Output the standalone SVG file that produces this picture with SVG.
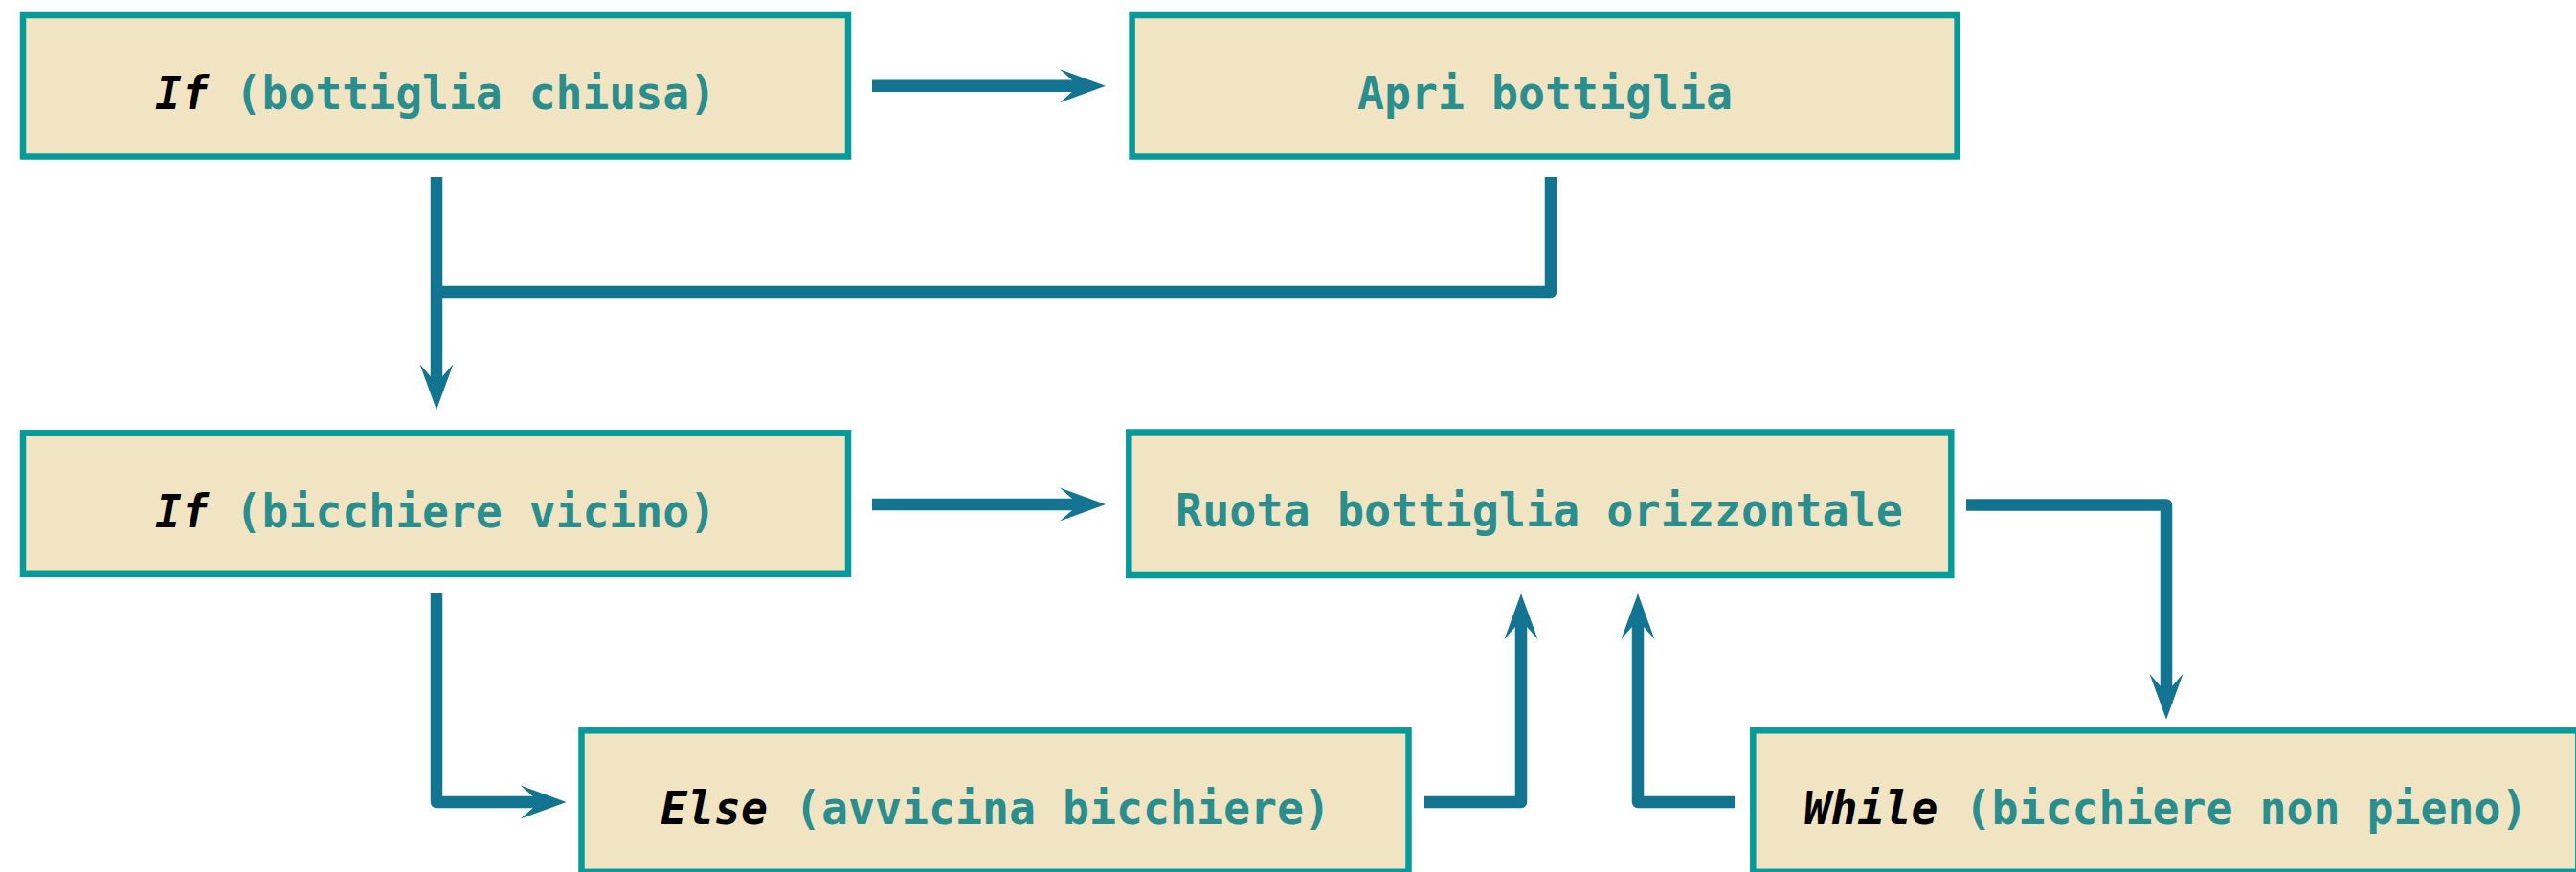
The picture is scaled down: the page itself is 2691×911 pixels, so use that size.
<svg xmlns="http://www.w3.org/2000/svg" width="2691" height="911" viewBox="0 0 2691 911">
  <style>
    .box { fill: #F1E4C3; stroke: #079A9B; stroke-width: 6.5; }
    .lbl { font-family: "DejaVu Sans Mono", "Liberation Mono", monospace; font-size: 48px; font-weight: bold; fill: #2A8E8E; text-anchor: middle; }
    .kw { font-weight: bold; font-style: italic; fill: #000000; }
    .conn { fill: none; stroke: #127490; stroke-width: 12.5; stroke-linejoin: round; stroke-linecap: butt; marker-end: url(#arr); }
    .seg { fill: none; stroke: #127490; stroke-width: 12.5; stroke-linejoin: round; stroke-linecap: butt; }
  </style>
  <defs>
    <marker id="arr" markerUnits="userSpaceOnUse" viewBox="-30 -20 56 40" markerWidth="56" markerHeight="40" refX="0" refY="0" orient="auto">
      <path d="M22,0 L-26,-17.5 L-6,0 L-26,17.5 Z" fill="#127490"/>
    </marker>
  </defs>
  <rect width="2691" height="911" fill="#FFFFFF"/>

  <g id="connectors">
    <path class="conn" d="M911,89.7 L1133,89.7"/>
    <path class="conn" d="M456,185 L456,406.3"/>
    <path class="seg" d="M1620,185 L1620,305 L456,305"/>
    <path class="conn" d="M911,527 L1133,527"/>
    <path class="conn" d="M456,620 L456,838 L569.7,838"/>
    <path class="conn" d="M1488,838 L1589,838 L1589,642"/>
    <path class="conn" d="M2054,527.5 L2263,527.5 L2263,729.7"/>
    <path class="conn" d="M1812,838 L1711,838 L1711,642"/>
  </g>

  <g id="node-if-bottiglia">
    <rect class="box" x="24" y="16" width="862" height="147.5"/>
    <text class="lbl" x="455" y="114" textLength="586" lengthAdjust="spacingAndGlyphs"><tspan class="kw">If</tspan> (bottiglia chiusa)</text>
  </g>
  <g id="node-apri">
    <rect class="box" x="1182.6" y="16" width="862" height="147.5"/>
    <text class="lbl" x="1614" y="114" textLength="392" lengthAdjust="spacingAndGlyphs">Apri bottiglia</text>
  </g>
  <g id="node-if-bicchiere">
    <rect class="box" x="24" y="452.3" width="862" height="147.5"/>
    <text class="lbl" x="455" y="551" textLength="586" lengthAdjust="spacingAndGlyphs"><tspan class="kw">If</tspan> (bicchiere vicino)</text>
  </g>
  <g id="node-ruota">
    <rect class="box" x="1179.3" y="451.5" width="859" height="149.5"/>
    <text class="lbl" x="1608" y="550" textLength="760" lengthAdjust="spacingAndGlyphs">Ruota bottiglia orizzontale</text>
  </g>
  <g id="node-else">
    <rect class="box" x="607.5" y="763.3" width="864" height="147.5"/>
    <text class="lbl" x="1040" y="861" textLength="700" lengthAdjust="spacingAndGlyphs"><tspan class="kw">Else</tspan> (avvicina bicchiere)</text>
  </g>
  <g id="node-while">
    <rect class="box" x="1831.3" y="763.3" width="862" height="147.5"/>
    <text class="lbl" x="2262.5" y="861" textLength="756" lengthAdjust="spacingAndGlyphs"><tspan class="kw">While</tspan> (bicchiere non pieno)</text>
  </g>
</svg>
